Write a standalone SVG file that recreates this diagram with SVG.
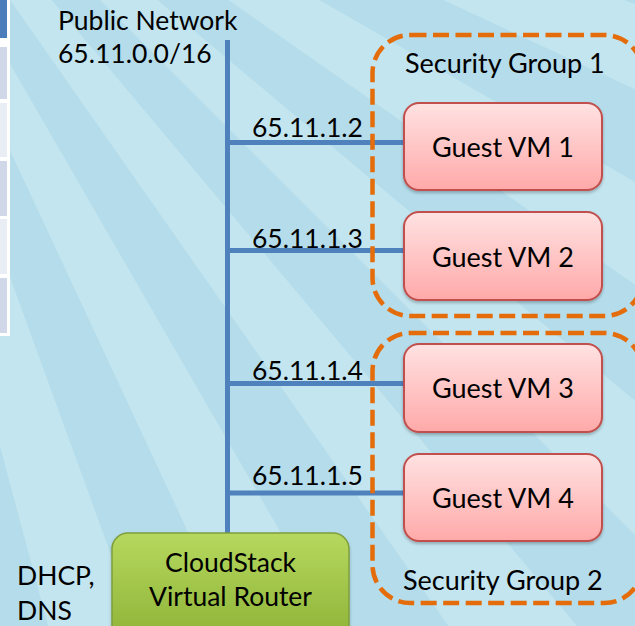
<svg xmlns="http://www.w3.org/2000/svg" width="635" height="626" viewBox="0 0 635 626">
<defs>
<style>
.t{font-family:Lato,"Open Sans","Liberation Sans",sans-serif;fill:#000}
.ip{font-size:26.5px}
.vm{font-size:27px;text-anchor:middle}
.sg{font-size:27px}
.wire{stroke:#4f81bd;stroke-width:5;fill:none}
.grp{fill:none;stroke:#e46c0a;stroke-width:4.5;stroke-dasharray:16 6.5}
.box{fill:url(#pink);stroke:#c0504d;stroke-width:2;filter:url(#sh)}
.ray{fill:#b4dcea}
</style>
<linearGradient id="pink" x1="0" y1="0" x2="0" y2="1">
<stop offset="0" stop-color="#ffe2e2"/>
<stop offset="1" stop-color="#ffa9a9"/>
</linearGradient>
<linearGradient id="green" x1="0" y1="0" x2="0" y2="1">
<stop offset="0" stop-color="#b6d85e"/>
<stop offset="1" stop-color="#8cb236"/>
</linearGradient>
<filter id="sh" x="-10%" y="-10%" width="120%" height="130%">
<feDropShadow dx="0" dy="2" stdDeviation="1.5" flood-color="#000" flood-opacity="0.25"/>
</filter>
</defs>
<rect width="635" height="626" fill="#c3e5ef"/>
<g id="background-rays">
<polygon class="ray" points="-200,-300 1731.8,217.6 1679.4,384.0"/>
<polygon class="ray" points="-200,-300 1612.6,545.2 1532.0,700.0"/>
<polygon class="ray" points="-200,-300 1438.4,847.2 1332.0,985.6"/>
<polygon class="ray" points="-200,-300 1214.2,1114.2 1085.6,1232.0"/>
<polygon class="ray" points="-200,-300 947.2,1338.4 800,1432"/>
<polygon class="ray" points="-200,-300 645.2,1512.6 484.0,1579.4"/>
<polygon class="ray" points="-200,-300 317.6,1631.8 147.2,1669.6"/>
<polygon class="ray" points="-200,-300 -25.6,1692.4 -200,1700"/>
</g>
<g id="table-fragment">
<rect x="0" y="0" width="10" height="336" fill="#ffffff"/>
<rect x="0" y="0" width="7" height="38" fill="#4a7dba"/>
<rect x="0" y="47" width="7" height="52" fill="#d0d7e8"/>
<rect x="0" y="103" width="7" height="54" fill="#e9edf4"/>
<rect x="0" y="161" width="7" height="55" fill="#d0d7e8"/>
<rect x="0" y="219" width="7" height="55" fill="#e9edf4"/>
<rect x="0" y="278" width="7" height="55" fill="#d0d7e8"/>
</g>
<g id="connectors">
<line class="wire" x1="227.5" y1="40" x2="227.5" y2="534"/>
<line class="wire" x1="227.5" y1="142.5" x2="405" y2="142.5"/>
<line class="wire" x1="227.5" y1="250.5" x2="405" y2="250.5"/>
<line class="wire" x1="227.5" y1="383.5" x2="405" y2="383.5"/>
<line class="wire" x1="227.5" y1="493" x2="405" y2="493"/>
</g>
<g id="public-network">
<text class="t ip" x="58" y="30">Public Network</text>
<text class="t ip" x="58" y="63">65.11.0.0/16</text>
</g>
<g id="ip-labels">
<text class="t ip" x="252" y="137">65.11.1.2</text>
<text class="t ip" x="252" y="248">65.11.1.3</text>
<text class="t ip" x="252" y="380">65.11.1.4</text>
<text class="t ip" x="252" y="485">65.11.1.5</text>
</g>
<g id="security-group-1">
<rect class="grp" x="372.5" y="35" width="270" height="281" rx="38"/>
<text class="t sg" x="405" y="73">Security Group 1</text>
</g>
<g id="security-group-2">
<rect class="grp" x="372.5" y="333" width="270" height="270" rx="38"/>
<text class="t sg" x="403" y="590">Security Group 2</text>
</g>
<g id="guest-vm-1">
<rect class="box" x="404" y="103" width="198" height="87" rx="15"/>
<text class="t vm" x="503" y="157">Guest VM 1</text>
</g>
<g id="guest-vm-2">
<rect class="box" x="404" y="212" width="198" height="88" rx="15"/>
<text class="t vm" x="503" y="267">Guest VM 2</text>
</g>
<g id="guest-vm-3">
<rect class="box" x="404" y="344" width="198" height="88" rx="15"/>
<text class="t vm" x="503" y="398">Guest VM 3</text>
</g>
<g id="guest-vm-4">
<rect class="box" x="404" y="454" width="198" height="87" rx="15"/>
<text class="t vm" x="503" y="508">Guest VM 4</text>
</g>
<g id="virtual-router">
<rect x="112" y="533" width="237" height="110" rx="16" fill="url(#green)" stroke="#7f9e3c" stroke-width="1.5" filter="url(#sh)"/>
<text class="t ip" x="230.5" y="572" text-anchor="middle">CloudStack</text>
<text class="t ip" x="230.5" y="606" text-anchor="middle">Virtual Router</text>
</g>
<g id="dhcp-dns">
<text class="t ip" x="17" y="585">DHCP,</text>
<text class="t ip" x="17" y="620">DNS</text>
</g>
</svg>
